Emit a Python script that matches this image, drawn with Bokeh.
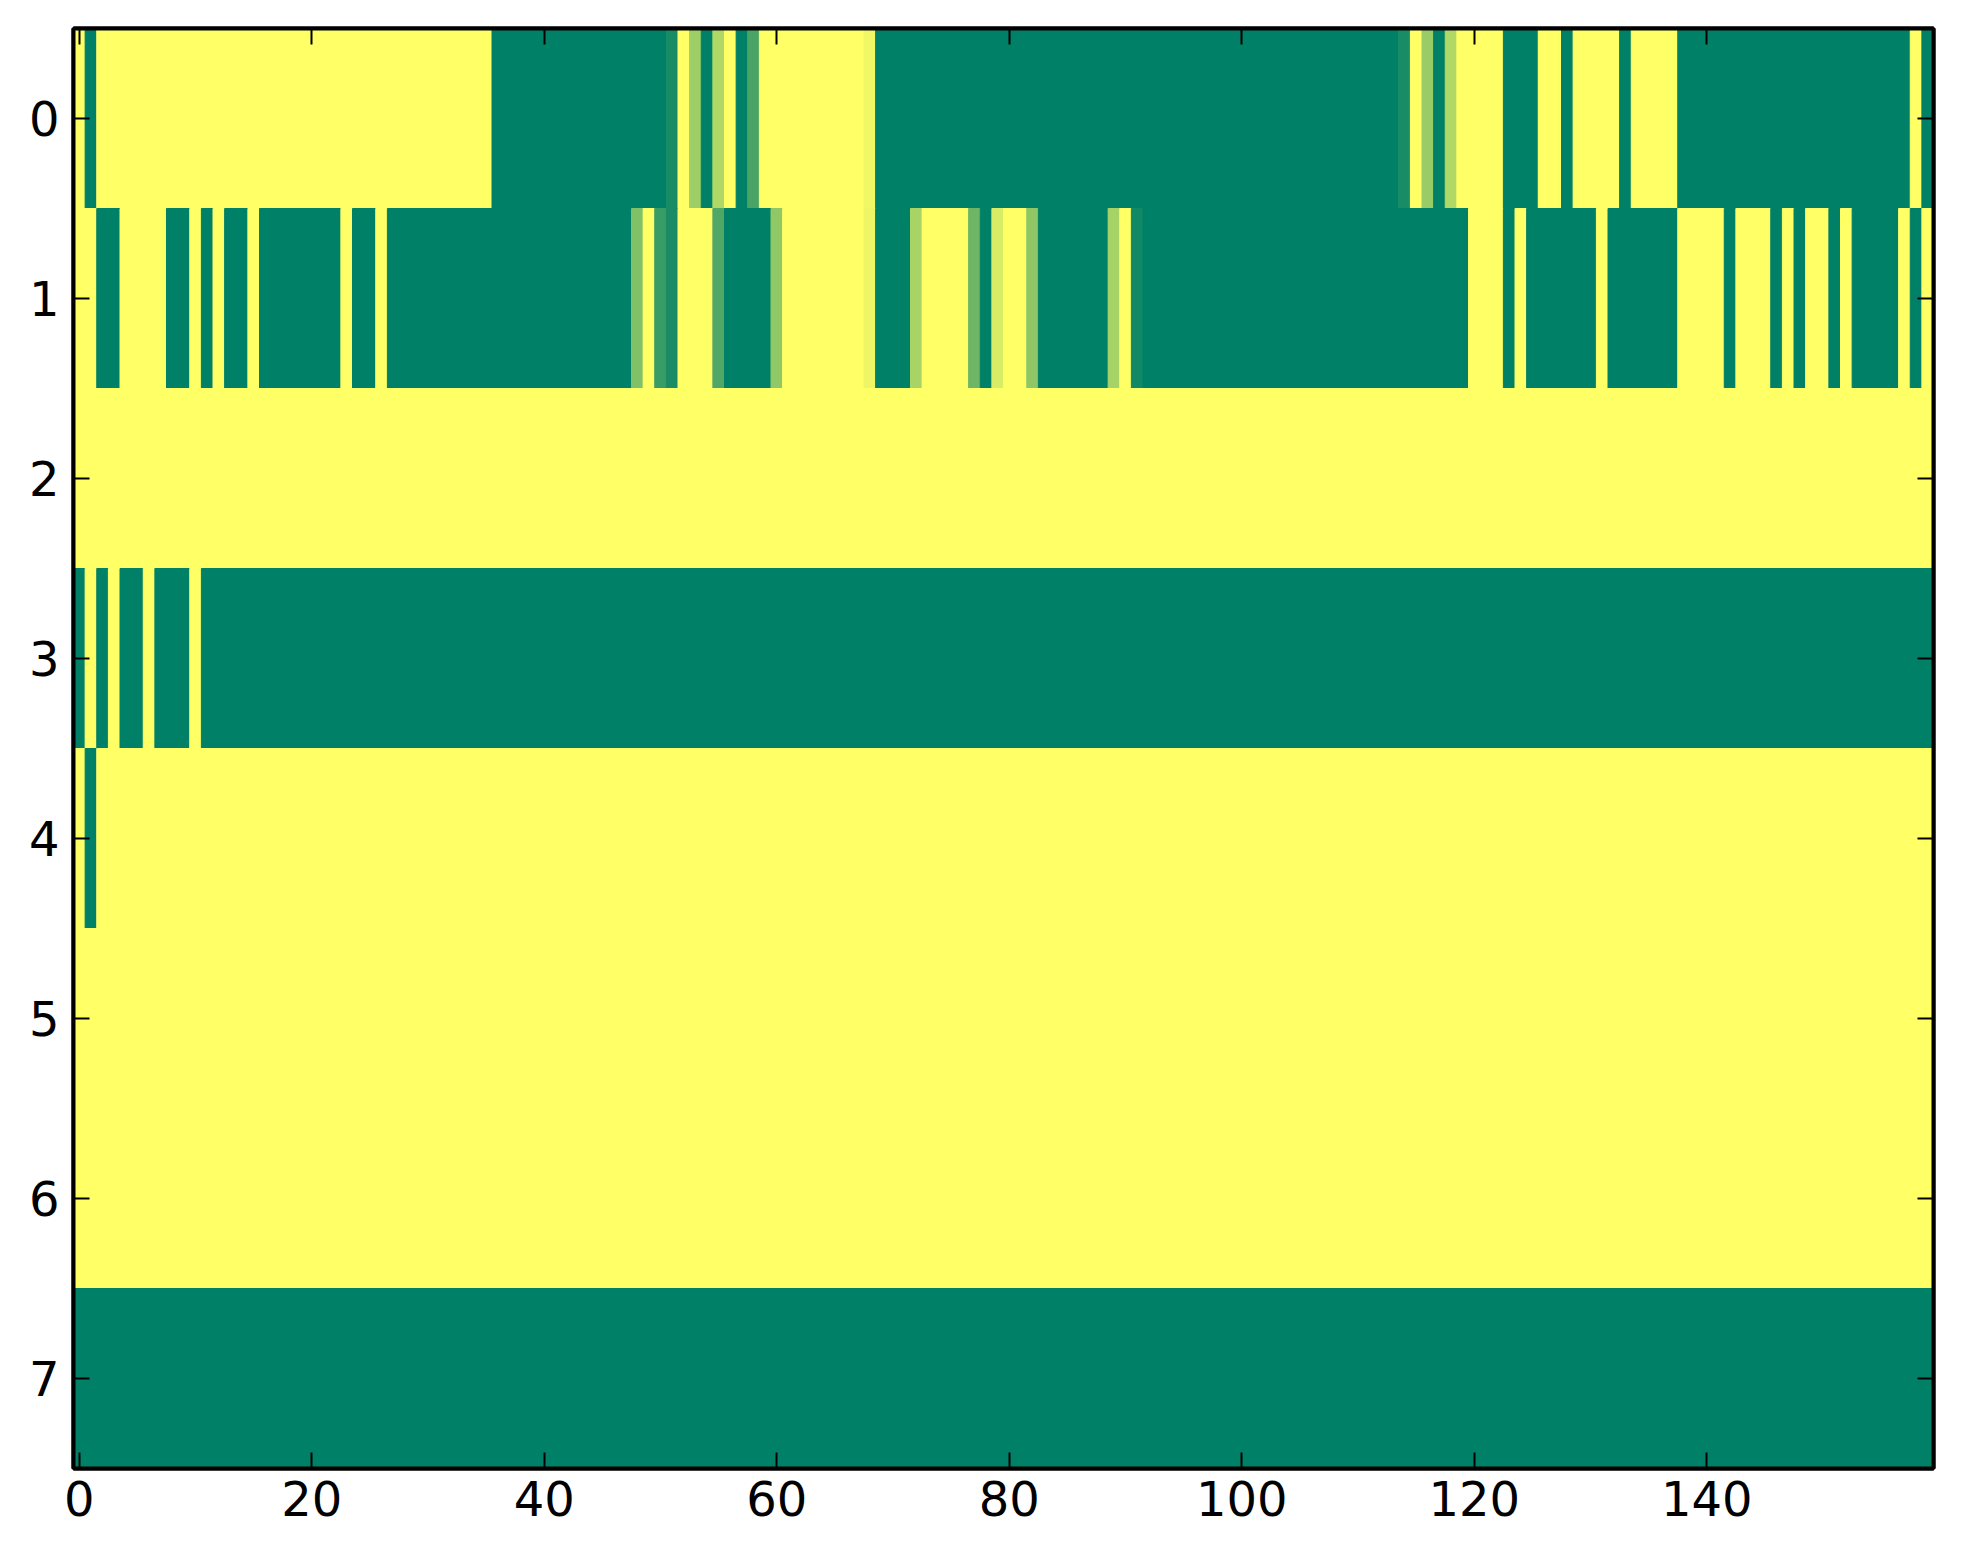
from bokeh.plotting import figure
from bokeh.models import FixedTicker, LinearAxis, ColumnDataSource, Range1d
from bokeh.transform import linear_cmap
from bokeh.embed import file_html
from bokeh.resources import INLINE

# ---- data (8 rows x 160 columns), values in [0, 1] ----
row0 = ([1, 0] + [1] * 34 + [0] * 15 +
        [0.10, 1, 0.62, 0, 0.69, 1, 0, 0.29] + [1] * 9 + [0.94] + [0] * 45 +
        [0.10, 1, 0.60, 0, 0.69] + [1] * 4 + [0] * 3 + [1] * 2 + [0] + [1] * 4 +
        [0] + [1] * 4 + [0] * 20 + [1, 0])
row1 = ([1, 1, 0, 0, 1, 1, 1, 1, 0, 0, 1, 0, 1, 0, 0, 1] + [0] * 7 + [1, 0, 0, 1] +
        [0] * 21 + [0.50, 1, 0.22, 0.10, 1, 1, 1, 0.32, 0, 0, 0, 0, 0.57] +
        [1] * 7 + [0.93, 0, 0, 0, 0.66, 1, 1, 1, 1, 0.43, 0, 0.85, 1, 1, 0.56] +
        [0] * 6 + [0.65, 1, 0.07] + [0] * 28 + [1, 1, 1, 0, 1] + [0] * 6 + [1] +
        [0] * 6 + [1] * 4 + [0, 1, 1, 1, 0, 1, 0, 1, 1, 0, 1, 0, 0, 0, 0, 1, 0, 1])
row2 = [1] * 160
row3 = [0, 1, 0, 1, 0, 0, 1, 0, 0, 0, 1] + [0] * 149
row4 = [1, 0] + [1] * 158
row5 = [1] * 160
row6 = [1] * 160
row7 = [0] * 160
rows = [row0, row1, row2, row3, row4, row5, row6, row7]

x_ticks = [0, 20, 40, 60, 80, 100, 120, 140]
y_ticks = [0, 1, 2, 3, 4, 5, 6, 7]

# ---- summer colormap palette (style) ----
summer = ["#%02x%02x%02x" % (i, round(127.5 + i / 2), 102) for i in range(256)]

# merge equal neighbouring cells of each row into runs (avoids SVG seams)
left, right, top, bottom, vals = [], [], [], [], []
for r, row in enumerate(rows):
    start = 0
    for c in range(1, len(row) + 1):
        if c == len(row) or row[c] != row[start]:
            left.append(start - 0.5)
            right.append(c - 0.5)
            top.append(r - 0.5)
            bottom.append(r + 0.5)
            vals.append(row[start])
            start = c
src = ColumnDataSource(dict(left=left, right=right, top=top, bottom=bottom, v=vals))

p = figure(width=1955, height=1548, output_backend="svg", toolbar_location=None,
           x_range=Range1d(-0.5, 159.5), y_range=Range1d(7.5, -0.5),
           min_border_left=73, min_border_right=22, min_border_top=28,
           min_border_bottom=80)
p.background_fill_color = "white"
p.xgrid.visible = False
p.ygrid.visible = False

cmap = linear_cmap("v", summer, 0, 1)
p.quad(left="left", right="right", top="top", bottom="bottom", source=src,
       fill_color=cmap, line_color=cmap, line_width=1)

p.outline_line_color = "black"
p.outline_line_width = 4
p.outline_line_alpha = 1

FONT = "DejaVu Sans"


def style_axis(ax, ticks, show_labels, standoff):
    ax.ticker = FixedTicker(ticks=ticks)
    ax.axis_line_color = "black"
    ax.axis_line_width = 4
    ax.major_tick_in = 16
    ax.major_tick_out = 0
    ax.major_tick_line_width = 2
    ax.major_tick_line_color = "black"
    ax.minor_tick_line_color = None
    ax.major_label_text_font = FONT
    ax.major_label_text_color = "black"
    ax.major_label_standoff = standoff
    if show_labels:
        ax.major_label_text_font_size = "48px"
    else:
        ax.major_label_text_font_size = "0px"
        ax.major_label_text_alpha = 0


style_axis(p.xaxis[0], x_ticks, True, 12)
style_axis(p.yaxis[0], y_ticks, True, 14)

top_axis = LinearAxis()
style_axis(top_axis, x_ticks, False, 0)
p.add_layout(top_axis, "above")
right_axis = LinearAxis()
style_axis(right_axis, y_ticks, False, 0)
p.add_layout(right_axis, "right")

open("out.html", "w").write(file_html(p, INLINE))
